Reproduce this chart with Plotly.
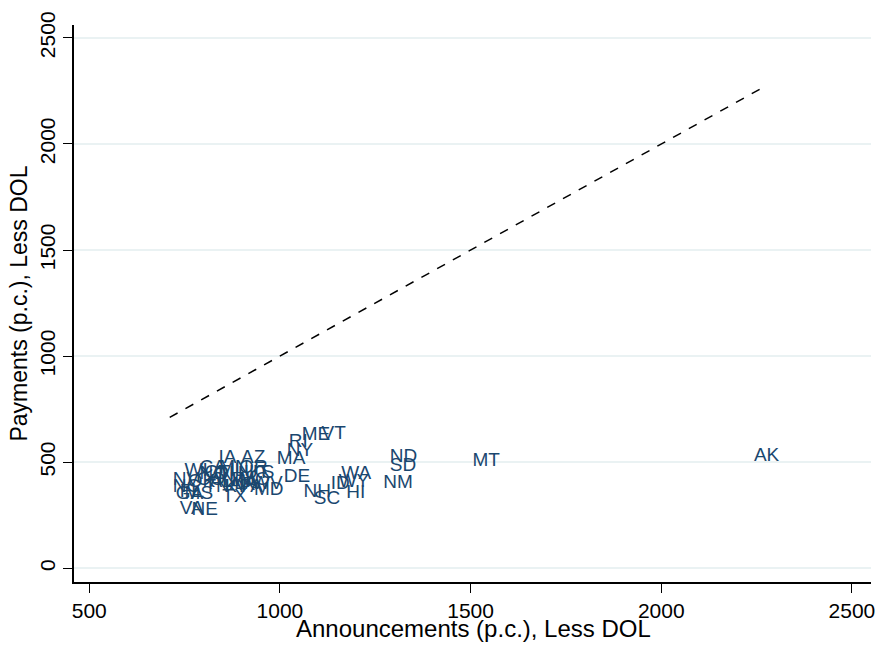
import plotly.graph_objects as go

states = ["AK", "MT", "ND", "SD", "NM", "HI", "WA", "WY", "ID", "SC", "NH", "VT", "ME",
          "RI", "NY", "MA", "DE", "AZ", "IA", "MD", "TX", "VA", "NE",
          "NV", "NC", "WI", "OK", "CA", "CO", "FL", "GA", "MS", "MN", "IL", "OR", "UT",
          "KS", "MI", "IN", "KY", "TN", "AL", "AR", "LA", "MO", "WV", "NJ", "CT", "OH", "PA"]
announcements = [2243, 1505, 1288, 1288, 1271, 1174, 1161, 1154, 1133, 1089, 1062, 1109, 1057,
                 1023, 1018, 992, 1010, 898, 839, 932, 849, 737, 768,
                 719, 719, 750, 758, 789, 781, 737, 727, 750, 841, 867, 893, 906,
                 919, 867, 836, 854, 802, 815, 867, 880, 893, 927, 789, 802, 828, 893]
payments = [529, 506, 525, 483, 399, 352, 441, 403, 394, 324, 356, 632, 628,
            595, 553, 515, 431, 520, 520, 366, 333, 277, 272,
            413, 380, 459, 403, 469, 417, 356, 347, 347, 469, 459, 469, 450,
            450, 413, 413, 380, 380, 403, 389, 394, 413, 394, 441, 450, 441, 380]
diag_x = [711, 2261]
diag_y = [711, 2261]

x_ticks = [500, 1000, 1500, 2000, 2500]
y_ticks = [0, 500, 1000, 1500, 2000, 2500]
x_title = "Announcements (p.c.), Less DOL"
y_title = "Payments (p.c.), Less DOL"

fig = go.Figure()
fig.add_trace(go.Scatter(x=diag_x, y=diag_y, mode="lines",
                         line=dict(color="black", width=1.5, dash="dash"),
                         hoverinfo="skip", showlegend=False))
fig.add_trace(go.Scatter(x=announcements, y=payments, mode="text", text=states,
                         textposition="middle right",
                         textfont=dict(family="Liberation Sans, Arial", size=19, color="#1a476f"),
                         showlegend=False))

fig.add_annotation(text=x_title, xref="paper", yref="paper", x=0.501, y=-0.0836,
                   xanchor="center", yanchor="middle", showarrow=False,
                   font=dict(family="Liberation Sans, Arial", size=24, color="black"))

fig.update_layout(
    width=887, height=652,
    margin=dict(l=74, r=14, t=20, b=70),
    paper_bgcolor="white", plot_bgcolor="white",
    font=dict(family="Liberation Sans, Arial", size=21, color="black"),
    xaxis=dict(range=[460, 2550], tickvals=x_ticks, showgrid=False, zeroline=False,
               showline=True, linecolor="black", linewidth=1.5,
               ticks="outside", ticklen=9, tickcolor="black"),
    yaxis=dict(range=[-65, 2561], tickvals=y_ticks, showgrid=True, gridcolor="#eaf2f3",
               gridwidth=1.5, zeroline=False,
               showline=True, linecolor="black", linewidth=1.5,
               ticks="outside", ticklen=9, tickcolor="black", tickangle=-90,
               title=dict(text=y_title, standoff=2,
                          font=dict(family="Liberation Sans, Arial", size=23, color="black"))),
)

fig.write_html("out.html")
